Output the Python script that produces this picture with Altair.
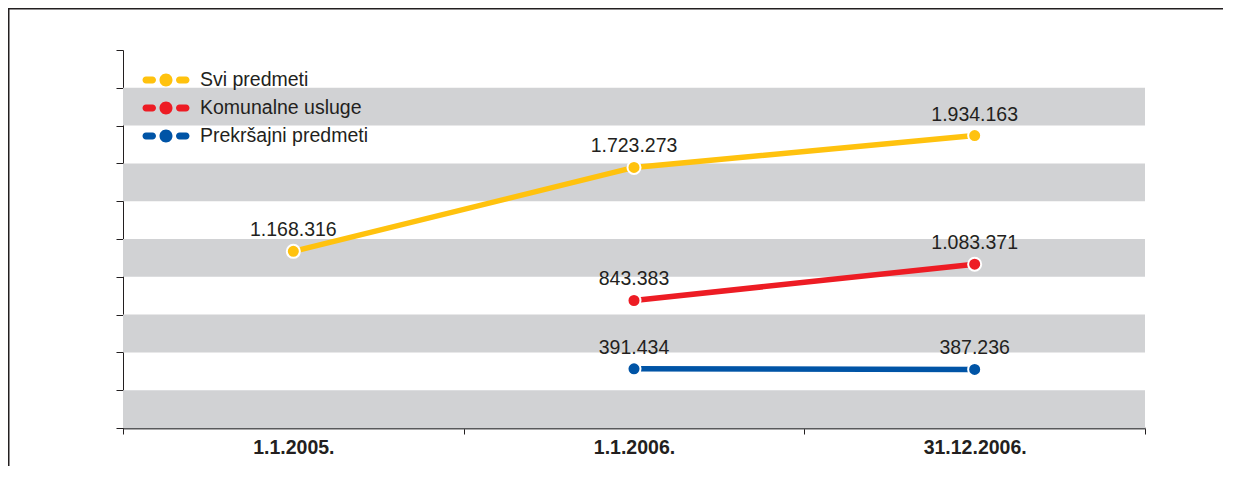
import altair as alt
import pandas as pd

dates = ["1.1.2005.", "1.1.2006.", "31.12.2006."]
series_names = ["Svi predmeti", "Komunalne usluge", "Prekršajni predmeti"]
svi = [1168316, 1723273, 1934163]
komunalne = [None, 843383, 1083371]
prekrsajni = [None, 391434, 387236]
colors = ["#ffc20e", "#ed1c24", "#0054a6"]

y_ticks = [0, 250000, 500000, 750000, 1000000, 1250000, 1500000, 1750000,
           2000000, 2250000, 2500000]
band_start = [0, 500000, 1000000, 1500000, 2000000]
band_end = [250000, 750000, 1250000, 1750000, 2250000]

rows = []
for name, vals in zip(series_names, [svi, komunalne, prekrsajni]):
    for d, v in zip(dates, vals):
        if v is not None:
            rows.append({"date": d, "series": name, "value": v,
                         "label": f"{v:,}".replace(",", ".")})
df = pd.DataFrame(rows)
bands = pd.DataFrame({"y0": band_start, "y1": band_end})

W, H = 1022, 378
PAD = {"left": 115, "top": 42, "right": 80, "bottom": 40}
FONT = "Liberation Sans, Arial, sans-serif"
TXT = "#231f20"

legend_path = (
    "M-2.0,-0.35 L-1.35,-0.35 A0.35,0.35 0 0 1 -1.35,0.35 L-2.0,0.35 A0.35,0.35 0 0 1 -2.0,-0.35 Z "
    "M0.65,0 A0.65,0.65 0 1 1 -0.65,0 A0.65,0.65 0 1 1 0.65,0 Z "
    "M1.35,-0.35 L2.0,-0.35 A0.35,0.35 0 0 1 2.0,0.35 L1.35,0.35 A0.35,0.35 0 0 1 1.35,-0.35 Z"
)

y_scale = alt.Scale(domain=[0, 2500000], nice=False)
y_axis = alt.Axis(values=y_ticks, labels=False, ticks=True, tickSize=7,
                  tickColor="#231f20", domainColor="#231f20", domainWidth=1,
                  grid=False, tickCount=20)

x_enc = alt.X("date:N", sort=dates, title=None,
              scale=alt.Scale(paddingInner=0, paddingOuter=0),
              axis=alt.Axis(labelAngle=0, tickBand="extent", ticks=True, tickSize=6,
                            tickColor="#231f20", domainColor="#58595b", domainWidth=2,
                            labelFontSize=19.5, labelFontWeight="bold", labelColor=TXT,
                            labelFont=FONT, labelPadding=4, grid=False))
y_enc = alt.Y("value:Q", title=None, scale=y_scale, axis=y_axis)

legend = alt.Legend(title=None, orient="none", legendX=33, legendY=20,
                    symbolType=legend_path, symbolSize=400,
                    symbolStrokeWidth=0, symbolOpacity=1,
                    labelFont=FONT, labelFontSize=19.5,
                    labelColor=TXT, labelOffset=24,
                    rowPadding=8, padding=0, labelLimit=400)
color_enc = alt.Color("series:N", scale=alt.Scale(domain=series_names, range=colors),
                      sort=series_names, legend=legend)

band_layer = alt.Chart(bands).mark_rect(color="#d1d2d4").encode(
    y=alt.Y("y0:Q", title=None, scale=y_scale, axis=y_axis),
    y2="y1:Q",
)

base = alt.Chart(df)
lines = base.mark_line(strokeWidth=5.5).encode(
    x=x_enc, y=y_enc, color=color_enc, detail="series:N",
)
points = base.mark_point(filled=True, size=170, stroke="white", strokeWidth=2,
                         opacity=1).encode(
    x=x_enc, y=y_enc, color=color_enc,
)
labels = base.mark_text(dy=-15, baseline="alphabetic", align="center",
                        fontSize=19.5, font=FONT, color=TXT).encode(
    x=x_enc, y=y_enc, text="label:N")

# outer frame: only its top and left edges fall inside the picture
frame_df = pd.DataFrame({"k": [0]})
frame_top = alt.Chart(frame_df).mark_rect(color="#231f20", strokeWidth=0).encode(
    x=alt.value(-115), x2=alt.value(W + PAD["right"] - 2),
    y=alt.value(-42), y2=alt.value(-40.5))
frame_left = alt.Chart(frame_df).mark_rect(color="#231f20", strokeWidth=0).encode(
    x=alt.value(-115), x2=alt.value(-113.5),
    y=alt.value(-42), y2=alt.value(H + PAD["bottom"] - 2))

chart = alt.layer(band_layer, lines, points, labels, frame_top, frame_left).properties(
    width=W, height=H, padding=PAD,
    autosize=alt.AutoSizeParams(type="none"),
).configure(font=FONT).configure_view(strokeWidth=0, stroke="transparent")

chart.save("out.html", embed_options={"renderer": "svg", "actions": False})
